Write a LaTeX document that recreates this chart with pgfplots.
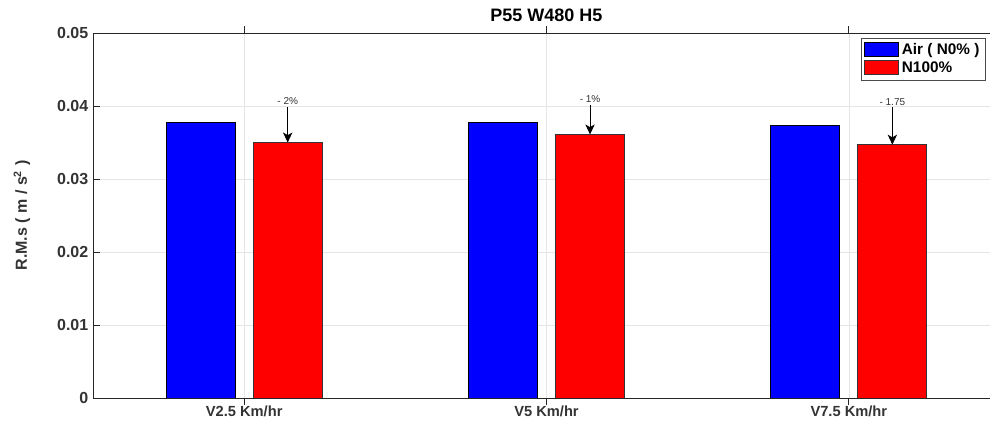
\documentclass[border=0pt]{standalone}
\usepackage{pgfplots}
\pgfplotsset{compat=1.18}
\usetikzlibrary{arrows.meta}
\usepackage{fontspec}
\setmainfont{Liberation Sans}
\begin{document}
\begin{tikzpicture}
\begin{axis}[
  at={(0,0)}, anchor=south west,
  scale only axis,
  width=680.25pt, height=273.75pt,
  xmin=0.5, xmax=3.5,
  ymin=0, ymax=0.05,
  scaled y ticks=false,
  xtick={1,2,3},
  xticklabels={V2.5 Km/hr, V5 Km/hr, V7.5 Km/hr},
  ytick={0,0.01,0.02,0.03,0.04,0.05},
  yticklabels={0,0.01,0.02,0.03,0.04,0.05},
  tick align=inside,
  major tick length=5pt,
  xmajorgrids, ymajorgrids,
  grid style={gray!20, line width=0.5pt},
  axis line style={line width=0.6pt, black!85},
  tick style={black!85, line width=0.6pt},
  xticklabel style={font=\bfseries\fontsize{11}{13}\selectfont, text=black!80, yshift=2.5pt},
  yticklabel style={font=\bfseries\fontsize{12}{14}\selectfont, text=black!80},
  title={\textbf{P55 W480 H5}},
  title style={font=\bfseries\fontsize{13.5}{15}\selectfont, yshift=-1pt},
  ylabel={\textbf{R.M.s ( m / s$^{\mathbf{2}}$ )}},
  ylabel style={font=\bfseries\fontsize{12}{14}\selectfont, text=black!80,
    at={(axis description cs:-0.0783,0.5)}, anchor=center},
  ybar, bar width=51.75pt,
  legend style={at={(0.9835,0.986)}, anchor=north east, draw=black!70,
    font=\bfseries\fontsize{11.5}{13}\selectfont, row sep=0pt, inner sep=2pt},
  legend cell align=left,
  legend image code/.code={\draw[#1] (0pt,-4.5pt) rectangle (26pt,6pt);},
]
\addplot[fill={rgb,1:red,0;green,0;blue,1}, draw=black, line width=0.6pt, bar shift=-32.6pt]
  coordinates {(1,0.0378) (2,0.0378) (3,0.0373)};
\addplot[fill={rgb,1:red,1;green,0;blue,0}, draw=black!80, line width=0.6pt, bar shift=32.6pt]
  coordinates {(1,0.0350) (2,0.0361) (3,0.0347)};
\legend{Air ( N0\% ), N100\%}
\node[font=\fontsize{7.5}{8}\selectfont, text=black!80] at (axis cs:1.144,0.0407) {- 2\%};
\node[font=\fontsize{7.5}{8}\selectfont, text=black!80] at (axis cs:2.144,0.0410) {- 1\%};
\node[font=\fontsize{7.5}{8}\selectfont, text=black!80] at (axis cs:3.144,0.0406) {- 1.75};
\draw[-{Stealth[length=7.5pt,width=7pt,inset=2pt]}, line width=0.7pt] (axis cs:1.144,0.0399) -- (axis cs:1.144,0.0350);
\draw[-{Stealth[length=7.5pt,width=7pt,inset=2pt]}, line width=0.7pt] (axis cs:2.144,0.0402) -- (axis cs:2.144,0.0361);
\draw[-{Stealth[length=7.5pt,width=7pt,inset=2pt]}, line width=0.7pt] (axis cs:3.144,0.0398) -- (axis cs:3.144,0.0347);
\end{axis}
\pgfresetboundingbox
\useasboundingbox (-69.75pt,-17.25pt) rectangle (672.75pt,298.5pt);
\end{tikzpicture}
\end{document}
